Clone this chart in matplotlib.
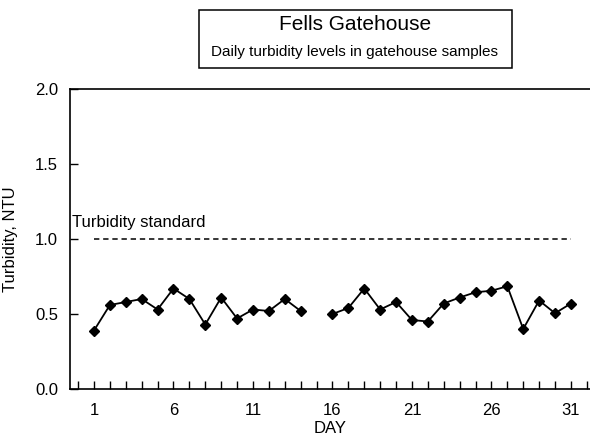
import numpy as np
import matplotlib
matplotlib.use("Agg")
import matplotlib.pyplot as plt
from matplotlib.patches import Rectangle
from matplotlib.ticker import MultipleLocator, FormatStrFormatter

plt.rcParams['font.family'] = ['Liberation Sans', 'DejaVu Sans']

title = "Fells Gatehouse"
subtitle = "Daily turbidity levels in gatehouse samples"
days = list(range(1, 32))
turbidity = [0.39, 0.56, 0.58, 0.60, 0.53, 0.67, 0.60, 0.43, 0.61, 0.47,
             0.53, 0.52, 0.60, 0.52, np.nan, 0.50, 0.54, 0.67, 0.53, 0.58,
             0.46, 0.45, 0.57, 0.61, 0.645, 0.655, 0.685, 0.40, 0.59, 0.505,
             0.57]
standard = 1.0
standard_label = "Turbidity standard"
xticks = [1, 6, 11, 16, 21, 26, 31]
yticks = [0.0, 0.5, 1.0, 1.5, 2.0]

fig = plt.figure(figsize=(5.9, 4.38), dpi=100)
ax = fig.add_axes([70/590, 1-389/438, 1-70/590, (389-89)/438])

ax.plot(days, turbidity, color='black', lw=1.3, marker='D', ms=5.5,
        mfc='black', mec='black')
ax.hlines(standard, days[0], days[-1], colors='black', linestyles=(0, (3.5, 2.5)), lw=1.1)
ax.text(-0.38, 1.113, standard_label, fontsize=12, va='center', ha='left')

ax.set_xlim(-0.51, 32.2)
ax.set_ylim(0, 2.0)
ax.set_xticks(xticks)
ax.xaxis.set_minor_locator(MultipleLocator(1))
ax.set_yticks(yticks)
ax.yaxis.set_major_formatter(FormatStrFormatter('%.1f'))
ax.tick_params(axis='both', direction='in', length=6, width=1, labelsize=12)
ax.tick_params(axis='y', pad=8.5)
ax.tick_params(axis='x', which='minor', direction='in', length=6, width=1)
ax.tick_params(axis='x', pad=10)
ax.spines['right'].set_visible(False)
for s in ['left', 'top', 'bottom']:
    ax.spines[s].set_linewidth(1.2)

ax.set_ylabel("Turbidity, NTU", fontsize=12, labelpad=12)
ax.set_xlabel("DAY", fontsize=12, labelpad=2)

# title box
fig.patches.append(Rectangle((199/590, 1-68/438), (512-199)/590, (68-10)/438,
                             transform=fig.transFigure, fill=False, lw=1.1, ec='black'))
fig.text(355/590, 1-25/438, title, fontsize=15, ha='center', va='center')
fig.text(355/590, 1-52/438, subtitle, fontsize=11, ha='center', va='center')

fig.savefig("out.png", dpi=100)
